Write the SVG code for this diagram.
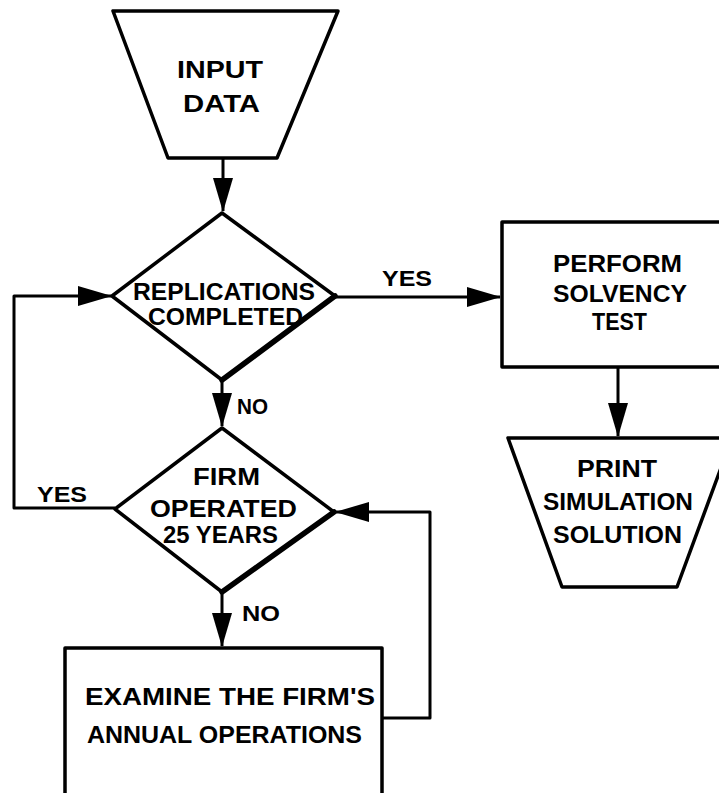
<svg xmlns="http://www.w3.org/2000/svg" width="719" height="793" viewBox="0 0 719 793">
<style>
.node{fill:#fff;stroke:#000;stroke-width:3.5;stroke-linejoin:round}
.t{font-family:"Liberation Sans",Arial,sans-serif;font-size:24px;font-weight:bold;fill:#000}
.l{font-family:"Liberation Sans",Arial,sans-serif;font-size:22px;font-weight:bold;fill:#000}
.c{fill:none;stroke:#000;stroke-width:3;stroke-linejoin:round}
</style>
<defs>
<marker id="ah" markerUnits="userSpaceOnUse" markerWidth="34" markerHeight="20" refX="33" refY="10" orient="auto">
<path d="M0,0 L34,10 L0,20 Z" fill="#000"/>
</marker>
</defs>
<rect width="719" height="793" fill="#fff"/>
<g id="connectors">
<path class="c" d="M223,158 V211" marker-end="url(#ah)"/>
<path class="c" d="M115,508 H14 V296 H111" marker-end="url(#ah)"/>
<path class="c" d="M335,297 H500" marker-end="url(#ah)"/>
<path class="c" d="M222,380 V426" marker-end="url(#ah)"/>
<path class="c" d="M222,592 V646" marker-end="url(#ah)"/>
<path class="c" d="M382,718 H430 V512 H336" marker-end="url(#ah)"/>
<path class="c" d="M618,368 V436" marker-end="url(#ah)"/>
<text class="l" x="382" y="286" textLength="50" lengthAdjust="spacingAndGlyphs">YES</text>
<text class="l" x="37" y="502" textLength="50" lengthAdjust="spacingAndGlyphs">YES</text>
<text class="l" x="237" y="414" textLength="31" lengthAdjust="spacingAndGlyphs">NO</text>
<text class="l" x="242" y="621" textLength="38" lengthAdjust="spacingAndGlyphs">NO</text>
</g>
<g id="input">
<path class="node" d="M113,11 H338 L277,158 H168 Z" stroke-width="4.5"/>
<text class="t" x="177" y="78" textLength="86" lengthAdjust="spacingAndGlyphs">INPUT</text>
<text class="t" x="183" y="112" textLength="77" lengthAdjust="spacingAndGlyphs">DATA</text>
</g>
<g id="replications">
<path class="node" d="M222,213 L335,296 L222,380 L112,296 Z"/>
<path d="M335,296 L222,380" stroke="#000" stroke-width="5.5" stroke-linecap="round"/>
<text class="t" x="133" y="300" textLength="182" lengthAdjust="spacingAndGlyphs">REPLICATIONS</text>
<text class="t" x="148" y="325" textLength="155" lengthAdjust="spacingAndGlyphs">COMPLETED</text>
</g>
<g id="firm">
<path class="node" d="M222,428 L334,512 L222,592 L115,509 Z"/>
<path d="M334,512 L222,592" stroke="#000" stroke-width="5.5" stroke-linecap="round"/>
<text class="t" x="193" y="485" textLength="67" lengthAdjust="spacingAndGlyphs">FIRM</text>
<text class="t" x="150" y="517" textLength="147" lengthAdjust="spacingAndGlyphs">OPERATED</text>
<text class="t" x="163" y="543" textLength="115" lengthAdjust="spacingAndGlyphs">25 YEARS</text>
</g>
<g id="examine">
<rect class="node" x="65" y="648" width="317" height="147"/>
<text class="t" x="85" y="705" textLength="290" lengthAdjust="spacingAndGlyphs">EXAMINE  THE FIRM'S</text>
<text class="t" x="87" y="743" textLength="275" lengthAdjust="spacingAndGlyphs">ANNUAL OPERATIONS</text>
</g>
<g id="solvency">
<rect class="node" x="502" y="222" width="228" height="145" stroke-width="4"/>
<text class="t" x="553" y="272" textLength="129" lengthAdjust="spacingAndGlyphs">PERFORM</text>
<text class="t" x="553" y="302" textLength="134" lengthAdjust="spacingAndGlyphs">SOLVENCY</text>
<text class="t" x="592" y="330" textLength="55" lengthAdjust="spacingAndGlyphs">TEST</text>
</g>
<g id="print">
<path class="node" d="M508,438 H732 L677,587 H562 Z" stroke-width="4"/>
<text class="t" x="577" y="477" textLength="80" lengthAdjust="spacingAndGlyphs">PRINT</text>
<text class="t" x="543" y="510" textLength="150" lengthAdjust="spacingAndGlyphs">SIMULATION</text>
<text class="t" x="553" y="543" textLength="129" lengthAdjust="spacingAndGlyphs">SOLUTION</text>
</g>
</svg>
